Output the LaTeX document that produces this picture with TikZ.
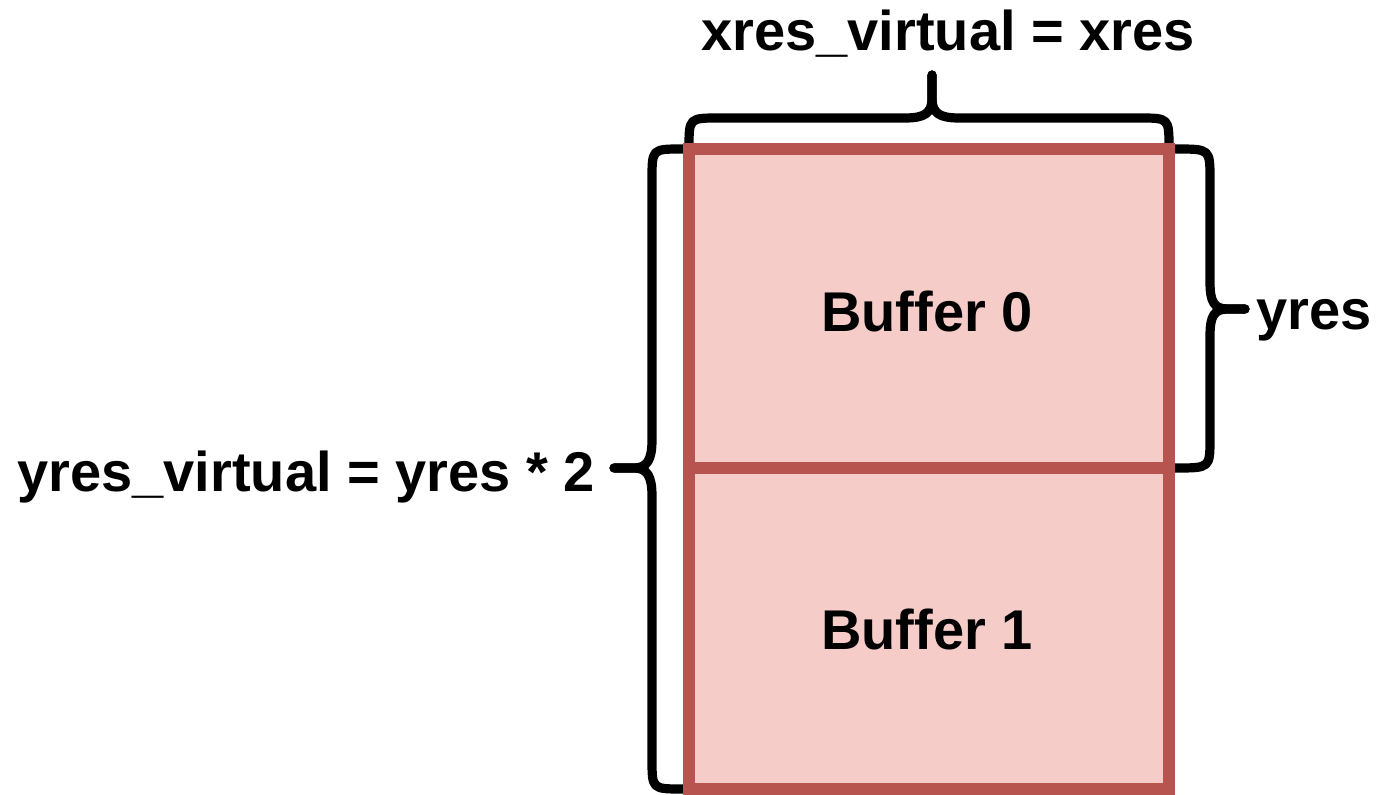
\documentclass[tikz,border=0pt]{standalone}
\usepackage{fontspec}
\setmainfont{Liberation Sans}
\begin{document}
\begin{tikzpicture}[x=0.5pt,y=-0.5pt,
  bufbox/.style={draw=bufline, fill=buffill, line width=6pt, inner sep=0pt, outer sep=0pt},
  brace/.style={draw=black, line width=4.6pt, line cap=round, line join=round},
  lbl/.style={font=\fontsize{28}{34}\selectfont\bfseries, inner sep=0pt, text=black}]
\definecolor{bufline}{HTML}{B85450}
\definecolor{buffill}{HTML}{F5CCC8}
\useasboundingbox (0,0) rectangle (1376,795);

% corner points of the two stacked buffers
\coordinate (tl) at (689,149);
\coordinate (tr) at (1169,149);
\coordinate (ml) at (689,468);
\coordinate (mr) at (1169,468);
\coordinate (bl) at (689,789);
\coordinate (br) at (1169,789);

% brace over the width
\coordinate (ttip) at (932,75);
\draw[brace] (tl) -- (689,146) -- (689,148) .. controls (689,118) .. (719,118)
  -- (905,118) .. controls (925,118) and (932,113) .. (932,98) -- (ttip);
\draw[brace] (tr) -- (1169,146) -- (1169,148) .. controls (1169,118) .. (1139,118)
  -- (959,118) .. controls (939,118) and (932,113) .. (932,98) -- (ttip);

% brace along the full height
\coordinate (ltip) at (614,468);
\draw[brace] (tl) -- (682,149) .. controls (652,149) .. (652,179)
  -- (652,440) .. controls (652,460) and (647,468) .. (634,468) -- (ltip);
\draw[brace] (bl) -- (682,789) .. controls (652,789) .. (652,759)
  -- (652,496) .. controls (652,476) and (647,468) .. (634,468) -- (ltip);

% brace along the first buffer
\coordinate (rtip) at (1245,309);
\draw[brace] (tr) -- (1176,149) .. controls (1210,149) .. (1210,179)
  -- (1210,282) .. controls (1210,302) and (1214,309) .. (1228,309) -- (rtip);
\draw[brace] (mr) -- (1176,468) .. controls (1210,468) .. (1210,438)
  -- (1210,336) .. controls (1210,316) and (1214,309) .. (1228,309) -- (rtip);

% the two buffers
\node[bufbox, minimum width=240pt, minimum height=159.5pt] (buf0) at (929,308.5) {};
\node[bufbox, minimum width=240pt, minimum height=160.5pt] (buf1) at (929,628.5) {};

% labels
\node[lbl, anchor=base] (b0) at (927,332) {Buffer 0};
\node[lbl, anchor=base] (b1) at (927,650) {Buffer 1};
\node[lbl, anchor=base west] (xv) at (701,51) {xres\_virtual = xres};
\node[lbl, anchor=base west] (yv) at (17,492) {yres\_virtual = yres * 2};
\node[lbl, anchor=base west] (yr) at (1256,330) {yres};
\end{tikzpicture}
\end{document}
